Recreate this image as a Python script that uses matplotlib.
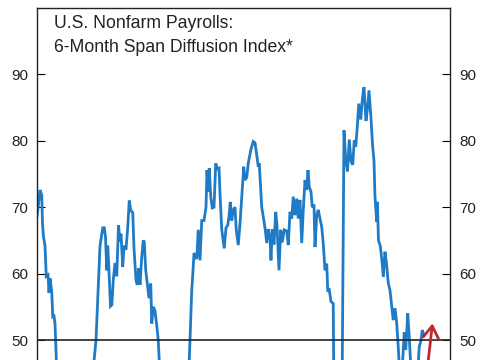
import matplotlib
matplotlib.use('Agg')
import matplotlib.pyplot as plt

plt.rcParams['font.family'] = ['Liberation Sans', 'DejaVu Sans']

# month index from start of chart, diffusion index value
month = [0.0, 1.2, 2.4, 3.8, 4.4, 5.2, 6.4, 7.4, 8.8, 9.6, 10.4, 11.8, 12.6, 13.6, 14.4,
         17.2, 22.4, 30.4, 38.4, 43.2, 47.2,
         50.4, 52.6, 53.8, 54.8, 55.8, 56.6, 57.6, 58.8, 59.9, 61.0, 62.4, 63.8, 65.2, 66.4,
         67.2, 68.6, 69.6, 71.2, 72.6, 73.8, 75.0, 76.6, 77.6, 79.2, 80.2, 81.4, 82.4, 83.8,
         85.0, 85.8, 87.0, 88.6, 89.6, 91.0, 91.8, 93.0, 94.4, 95.8, 97.0,
         98.8, 101.6, 106.4, 111.2, 116.0, 120.0, 122.4,
         123.8, 124.6, 125.6, 127.8, 129.0, 130.4, 131.8, 133.6, 135.2, 136.0, 137.0, 137.8,
         139.0, 140.2, 141.6, 143.0, 144.2, 145.6, 146.4, 147.8, 149.8, 151.2, 152.6, 153.6,
         154.6, 155.8, 157.0, 158.4, 159.4, 161.0, 162.4, 163.8, 165.4, 166.4, 167.8, 169.0,
         171.0, 173.0, 174.4, 176.0, 177.0, 177.8, 179.8, 181.0, 182.4, 183.8, 185.0, 186.4,
         187.2, 188.2, 189.6, 191.0, 192.0, 193.6, 195.0, 196.2, 197.8, 199.8, 201.0, 202.4,
         203.8, 205.0, 206.4, 207.8, 209.0, 210.4, 211.8, 213.0, 214.4, 215.8, 216.8, 217.8,
         219.2, 220.2, 221.6, 222.4, 223.8, 225.0, 226.4, 227.8, 229.0, 230.4, 231.8, 232.6,
         233.8, 235.2, 237.0,
         238.8, 240.8, 243.2,
         245.6, 247.0, 248.4, 249.8, 251.2, 252.6, 253.8, 255.0, 256.2, 257.4, 259.0, 260.3,
         261.6, 263.2, 264.4, 265.6, 267.0, 268.4, 269.6, 270.4, 271.8, 272.3, 273.2, 274.6,
         275.8, 277.1, 278.4, 279.8, 281.0, 282.4, 283.8, 285.0, 286.4, 287.8, 289.0,
         290.8, 292.0, 293.0, 293.8, 295.0, 296.6, 297.8, 299.6, 302.0, 304.4, 305.8, 307.2,
         308.2, 309.6]

index = [68.6, 70.5, 72.6, 71.8, 67.5, 65.5, 64.2, 59.6, 59.8, 57.1, 59.3, 57.3, 53.5, 53.6, 52.5,
         38, 33, 30, 33, 42, 50,
         64.2, 66.9, 66.9, 65.5, 60.5, 64.2, 60.3, 55.1, 55.3, 59, 61.6, 59.6, 67.3, 64.8,
         66, 61, 64.2, 63.6, 67, 71, 69.5, 69.2, 63.8, 59, 58.3, 60.8, 58.3, 62.5,
         65, 64.8, 60.5, 58, 56.3, 58.5, 52.5, 55, 54.4, 52.2, 50,
         43, 30, 18, 15, 22, 38, 50,
         57.5, 59.8, 63.1, 62.2, 66.6, 62, 68, 68, 70, 75.6, 72.3, 75.9,
         71.6, 69.9, 70, 76.6, 75.8, 75.9, 72.1, 66.6, 63.8, 66.9, 67.3, 68.6,
         70.8, 68, 69.6, 70, 66.6, 64.3, 67.5, 71.6, 76.1, 74.1, 74.5, 76.6,
         78.6, 79.9, 79.7, 77.6, 76.1, 76.6, 70, 68.6, 66.9, 64.6, 66.7, 65.4,
         62, 66.7, 64.4, 69.3, 67.2, 60.5, 66.6, 64.7, 66.6, 66.4, 64.3, 69.3,
         68.3, 71.6, 68.8, 71.3, 68.3, 71.1, 64.6, 69.5, 74.1, 72.6, 75.6, 73.1,
         72.3, 70, 70.4, 64, 68.8, 69.6, 68.3, 67, 64.6, 60.5, 61.5, 57.5,
         57.6, 55.8, 55.5,
         10, 2, 20,
         81.6, 77.1, 75.4, 80.2, 76.9, 76.4, 80.1, 79.1, 82, 85.6, 83.2, 86.3,
         88.1, 83, 84.8, 87.6, 84, 79.5, 77, 71.6, 67.8, 70.8, 65, 64.2,
         62.3, 59.5, 63.3, 61.2, 58.6, 57.5, 55, 53, 54.8, 52.5, 49,
         43, 44.5, 48.5, 51.2, 48.5, 54, 50.5, 44, 41, 44.5, 49, 49.9,
         51.5, 50.7]

yticks = [0, 10, 20, 30, 40, 50, 60, 70, 80, 90]
title_lines = ['U.S. Nonfarm Payrolls:', '6-Month Span Diffusion Index*']

fig = plt.figure(figsize=(4.85, 3.6), dpi=100)
# axes runs past the bottom of the figure, the chart is cropped at ~47
ax = fig.add_axes([0.0763, -0.8667, 0.8515, 1.8444])

ax.plot(month, index, color='#1f7bc6', lw=2.0, solid_joinstyle='miter')
ax.axhline(50, color='#222222', lw=1.2)

ax.annotate('', xy=(316.4, 52.5), xytext=(308.8, 40),
            arrowprops=dict(arrowstyle='->,head_length=0.85,head_width=0.55',
                            color='#c0282d', lw=2, shrinkA=0, shrinkB=0))

ax.set_xlim(0, 330.4)
ax.set_ylim(0, 100)
ax.set_xticks([])
ax.set_yticks(yticks)
ax.tick_params(axis='y', direction='in', length=6, width=0.8, pad=6.5,
               labelsize=11, labelcolor='#222222', left=True, right=True,
               labelleft=True, labelright=True)
for s in ax.spines.values():
    s.set_linewidth(1.0)
    s.set_color('#222222')

fig.text(54 / 485, 1 - 28 / 360, title_lines[0], fontsize=12.7, color='#222222', va='baseline')
fig.text(54 / 485, 1 - 52 / 360, title_lines[1], fontsize=12.7, color='#222222', va='baseline')

fig.savefig('out.png', dpi=100)
